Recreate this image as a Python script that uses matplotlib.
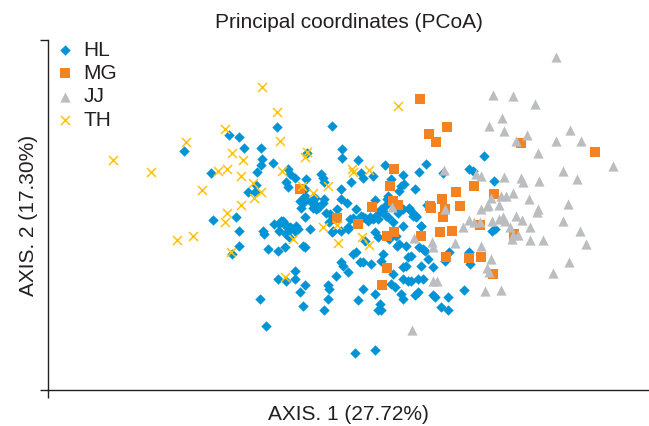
"""PCoA scatter of four sample groups (HL, MG, JJ, TH)."""

import matplotlib

matplotlib.use("Agg")
import matplotlib.pyplot as plt

plt.rcParams["font.family"] = ["Liberation Sans", "DejaVu Sans"]

GROUPS = ["HL", "MG", "JJ", "TH"]
COLORS = {"HL": "#0093d5", "MG": "#f58220", "JJ": "#bcbdc0", "TH": "#ffc20e"}
TEXT_COLOR = "#231f20"

# scores (arbitrary units, axis 2 grows downwards)
hl_points = [
    (446, 456), (555, 405), (578, 413), (590, 445), (512, 522), (516, 663), (571, 653), (578, 697), (580, 740), (562, 765),
    (600, 578), (620, 558), (618, 578), (622, 517), (632, 497), (635, 479), (633, 447), (662, 490), (671, 383), (697, 508),
    (701, 525), (713, 537), (693, 548), (697, 562), (742, 462), (741, 540), (738, 570), (777, 525), (781, 535), (785, 548),
    (803, 378), (828, 450), (828, 475), (867, 482), (824, 570), (850, 548), (878, 535), (874, 520), (902, 530), (932, 497),
    (945, 540), (974, 528), (978, 555), (970, 560), (1003, 568), (964, 575), (1013, 518), (1031, 495), (1071, 520), (1134, 510),
    (1144, 515), (1169, 470), (1193, 545), (737, 590), (761, 595), (785, 600), (824, 600), (906, 602), (938, 590), (733, 610),
    (729, 625), (757, 625), (765, 630), (781, 610), (789, 640), (815, 628), (840, 612), (739, 655), (799, 645), (855, 658),
    (874, 650), (884, 658), (894, 655), (906, 655), (914, 645), (922, 630), (930, 620), (936, 600), (934, 652), (988, 625),
    (994, 635), (1005, 650), (1032, 617), (974, 680), (1018, 680), (664, 675), (676, 675), (684, 665), (692, 680), (696, 695),
    (704, 688), (636, 695), (640, 705), (717, 680), (749, 690), (803, 700), (825, 695), (841, 685), (681, 665), (689, 675),
    (701, 685), (676, 695), (693, 705), (713, 695), (721, 690), (797, 670), (805, 695), (846, 660), (842, 690), (878, 655),
    (890, 665), (902, 660), (914, 660), (926, 635), (938, 655), (950, 670), (962, 640), (974, 630), (990, 630), (998, 650),
    (1006, 655), (906, 700), (914, 715), (882, 725), (958, 710), (966, 735), (982, 740), (1012, 745), (1027, 755), (672, 755),
    (689, 745), (733, 740), (737, 745), (648, 750), (854, 765), (862, 760), (870, 790), (878, 790), (898, 795), (825, 790),
    (829, 800), (842, 820), (813, 830), (926, 765), (922, 785), (986, 775), (994, 770), (982, 800), (974, 805), (1035, 780),
    (1019, 800), (1047, 805), (713, 815), (713, 840), (693, 845), (672, 840), (737, 860), (725, 880), (793, 860), (797, 870),
    (793, 900), (785, 935), (733, 923), (878, 870), (867, 905), (906, 885), (918, 915), (922, 933), (914, 935), (950, 825),
    (946, 855), (954, 865), (974, 840), (986, 845), (994, 845), (1011, 840), (970, 885), (974, 900), (1003, 890), (1011, 880),
    (1047, 890), (1051, 895), (1067, 925), (1083, 935), (1083, 895), (1121, 873), (1134, 760), (1135, 795), (1075, 785),
    (1085, 760), (1023, 750), (1023, 840), (1190, 695), (1196, 690), (630, 900), (644, 983), (858, 1062), (906, 1055),
    (726, 605), (750, 605), (770, 625), (760, 610), (810, 660), (860, 630), (700, 715), (960, 740), (940, 720), (1018, 682),
]
mg_points = [
    (1016, 298), (1080, 382), (1038, 403), (1055, 428), (1260, 430), (1437, 457), (953, 508), (943, 560), (725, 568),
    (950, 605), (962, 618), (900, 623), (1040, 620), (1043, 625), (1068, 600), (1102, 578), (1145, 560), (1195, 585),
    (1112, 620), (1075, 630), (1072, 655), (815, 657), (866, 676), (953, 698), (935, 712), (1017, 710), (1063, 698),
    (1093, 697), (1160, 678), (1242, 705), (1078, 773), (1133, 778), (1162, 773), (935, 808), (923, 857), (1192, 826),
]
jj_points = [
    (1343, 170), (1192, 285), (1240, 290), (1293, 313), (1213, 355), (1183, 378), (1218, 395), (1273, 405), (1248, 425),
    (1343, 425), (1377, 390), (1405, 425), (1300, 462), (1482, 500), (1360, 515), (1395, 538), (1073, 512), (1150, 525),
    (1162, 530), (1218, 533), (1258, 535), (1265, 548), (1303, 545), (1223, 590), (1212, 590), (1240, 580), (1278, 600),
    (1188, 595), (1180, 618), (1205, 618), (1162, 630), (1176, 620), (1300, 630), (1297, 638), (1373, 613), (948, 623),
    (1075, 628), (1120, 685), (1133, 663), (1145, 668), (1160, 670), (1190, 665), (1205, 660), (1215, 653), (1220, 665),
    (1248, 652), (1262, 662), (1280, 685), (1232, 685), (1240, 708), (1253, 708), (1238, 720), (1280, 722), (1313, 722),
    (1360, 665), (1402, 695), (1415, 735), (1000, 717), (1045, 730), (1047, 745), (1099, 733), (1163, 740), (1188, 780),
    (1177, 806), (1181, 820), (1047, 845), (1056, 845), (1172, 878), (1211, 875), (1336, 823), (1376, 788), (995, 993),
]
th_points = [
    (275, 483), (366, 517), (451, 428), (490, 573), (430, 723), (468, 712), (545, 388), (561, 462), (588, 482), (550, 510),
    (528, 514), (583, 531), (612, 550), (632, 578), (614, 595), (583, 617), (549, 640), (545, 668), (559, 758), (634, 263),
    (670, 338), (678, 424), (742, 458), (738, 474), (683, 515), (731, 560), (757, 580), (794, 560), (781, 685), (816, 678),
    (817, 733), (709, 720), (691, 833), (851, 510), (892, 512), (855, 518), (875, 715), (892, 738), (962, 320),
]

MARKERS = {
    "HL": dict(marker="D", s=28, linewidths=0),
    "MG": dict(marker="s", s=46, linewidths=0),
    "JJ": dict(marker="^", s=54, linewidths=0),
    "TH": dict(marker="x", s=42, linewidths=1.1),
}


def main():
    fig = plt.figure(figsize=(6.49, 4.26), dpi=100)
    ax = fig.add_axes([48 / 649, 36 / 426, 601 / 649, 350 / 426])

    data = {"HL": hl_points, "MG": mg_points, "JJ": jj_points, "TH": th_points}
    for z, name in enumerate(GROUPS):
        xs = [p[0] for p in data[name]]
        ys = [p[1] for p in data[name]]
        ax.scatter(xs, ys, color=COLORS[name], label=name, zorder=2 + z, clip_on=False, **MARKERS[name])

    ax.set_xlim(118, 1568)
    ax.set_ylim(1175, 120)

    for side in ("top", "right"):
        ax.spines[side].set_visible(False)
    for side in ("left", "bottom"):
        ax.spines[side].set_color(TEXT_COLOR)
        ax.spines[side].set_linewidth(1.0)
    ax.set_xticks([118])
    ax.set_yticks([120, 1175])
    ax.tick_params(length=5.5, width=1.0, color=TEXT_COLOR, labelbottom=False, labelleft=False)

    ax.set_title("Principal coordinates (PCoA)", fontsize=15, color=TEXT_COLOR, pad=9)
    ax.set_xlabel("AXIS. 1 (27.72%)", fontsize=15, color=TEXT_COLOR, labelpad=5.5)
    ax.set_ylabel("AXIS. 2 (17.30%)", fontsize=15, color=TEXT_COLOR, labelpad=2)

    ax.legend(loc="upper left", bbox_to_anchor=(-0.017, 1.04), frameon=False, fontsize=15,
              handletextpad=0.3, labelspacing=0.21, borderaxespad=0.3, handlelength=1.2,
              labelcolor=TEXT_COLOR)

    fig.savefig("out.png", dpi=100)


if __name__ == "__main__":
    main()
